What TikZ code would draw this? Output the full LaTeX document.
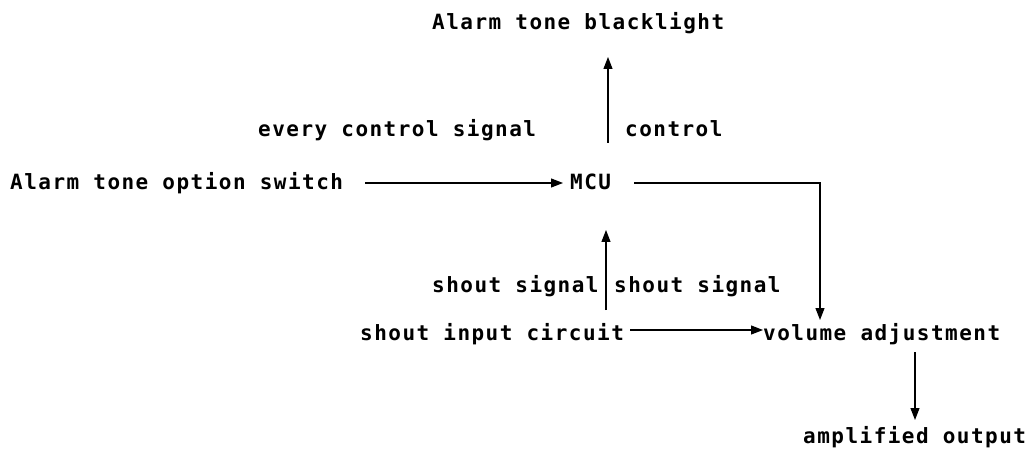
\documentclass[tikz,border=0pt]{standalone}
\usepackage{fontspec}
\setmainfont{DejaVu Sans Mono}[LetterSpace=7]
\usetikzlibrary{arrows.meta,calc}
\begin{document}
\begin{tikzpicture}[x=1pt,y=-1pt,
  lbl/.style={inner sep=0pt,anchor=base west,font=\fontsize{21}{25}\selectfont\bfseries},
  arr/.style={-{Triangle[length=12pt,width=9pt]},line width=1.1pt}]
\useasboundingbox (0,0) rectangle (1033,454);
\node[lbl] (bl) at (432,30) {Alarm tone blacklight};
\node[lbl] (ecs) at (258,137) {every control signal};
\node[lbl] (ctrl) at (625,137) {control};
\node[lbl] (sw) at (10,190) {Alarm tone option switch};
\node[lbl] (mcu) at (570,190) {MCU};
\node[lbl] (ss1) at (432,292) {shout signal};
\node[lbl] (ss2) at (614,292) {shout signal};
\node[lbl] (sic) at (360,340) {shout input circuit};
\node[lbl] (va) at (763,340) {volume adjustment};
\node[lbl] (ao) at (803,443) {amplified output};
% switch -> MCU
\draw[arr] ($(mcu.base west)+(-205,-7)$) -- ($(mcu.base west)+(-7,-7)$);
% MCU -> blacklight
\draw[arr] ($(mcu.base west)+(38,-47)$) -- ($(bl.base west)+(176,27)$);
% MCU -> volume adjustment
\draw[arr] ($(mcu.base west)+(64,-7)$) -| ($(va.base west)+(57,-20)$);
% shout input -> MCU
\draw[arr] ($(mcu.base west)+(36,120)$) -- ($(mcu.base west)+(36,40)$);
% shout input -> volume adjustment
\draw[arr] ($(sic.base west)+(270,-10)$) -- ($(va.base west)+(0,-10)$);
% volume adjustment -> amplified output
\draw[arr] ($(va.base west)+(152,12)$) -- ($(ao.base west)+(112,-23)$);
\end{tikzpicture}
\end{document}
